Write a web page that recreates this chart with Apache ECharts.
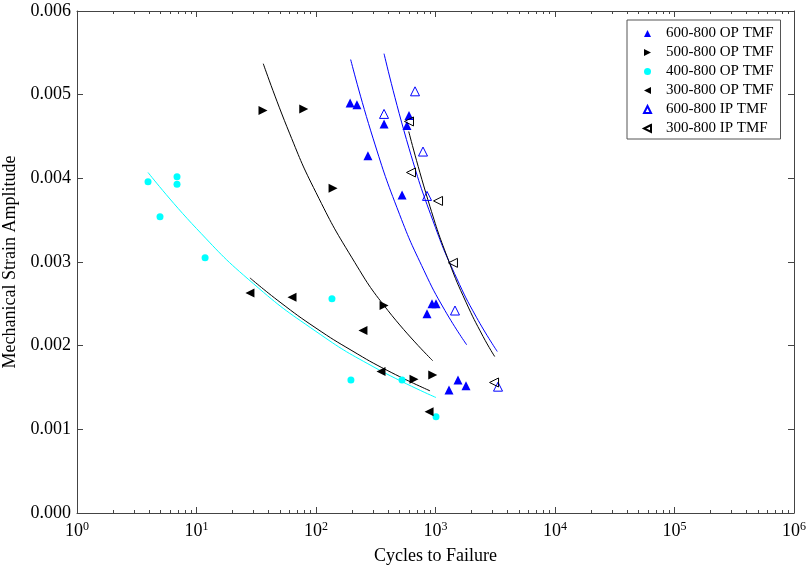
<!DOCTYPE html>
<html>
<head>
<meta charset="utf-8">
<script src="https://cdn.jsdelivr.net/npm/echarts@6/dist/echarts.min.js"></script>
<style>
  html, body { margin: 0; padding: 0; background: #fff; }
  #chart { width: 806px; height: 569px; }
</style>
</head>
<body>
<div id="chart"></div>
<script>
// test points [cycles, strain amplitude]
const op600 = [[193, 0.00490], [220, 0.00488], [371, 0.00465], [272, 0.00427], [525, 0.00380],
  [600, 0.00475], [577, 0.00463], [935, 0.00250], [1010, 0.00250], [849, 0.00238],
  [1543, 0.00159], [1800, 0.00152], [1297, 0.00147]];
const op500 = [[36, 0.00481], [79, 0.00483], [139, 0.00388], [371, 0.00248], [661, 0.00160], [948, 0.00165]];
const op400 = [[3.93, 0.00396], [6.87, 0.00402], [6.87, 0.00393], [4.95, 0.00354], [11.8, 0.00305],
  [136, 0.00256], [196, 0.00159], [525, 0.00159], [1010, 0.00115]];
const op300 = [[28, 0.00263], [63, 0.00258], [247, 0.00218], [350, 0.00169], [883, 0.00121]];
const ip600 = [[674, 0.00504], [371, 0.00477], [786, 0.00432], [849, 0.00379], [1456, 0.00242], [3336, 0.00151]];
const ip300 = [[600, 0.00468], [624, 0.00407], [1050, 0.00373], [1400, 0.00299], [3090, 0.00156]];

// fitted curves
const fit400N = [3.93, 10, 30, 100, 300, 1010];
const fit400E = [0.00407, 0.00340, 0.00274, 0.00217, 0.00175, 0.00138];
const fit300N = [28, 50, 100, 200, 400, 900];
const fit300E = [0.00281, 0.00252, 0.00221, 0.00194, 0.00170, 0.00146];
const fit500N = [36.2, 60, 100, 200, 400, 948];
const fit500E = [0.00537, 0.00454, 0.00383, 0.00305, 0.00242, 0.00182];
const fit600opN = [195, 300, 500, 800, 1200, 1824];
const fit600opE = [0.00542, 0.00448, 0.00357, 0.00290, 0.00242, 0.00201];
const fit600ipN = [371, 600, 1000, 1500, 2200, 3289];
const fit600ipE = [0.00549, 0.00436, 0.00341, 0.00281, 0.00234, 0.00193];
const fit300ipN = [597, 900, 1300, 1800, 2500, 3128];
const fit300ipE = [0.00456, 0.00366, 0.00300, 0.00252, 0.00211, 0.00187];

const majorTicks = [1, 10, 100, 1000, 10000, 100000, 1000000];
const minorTicks = [];
for (let d = 1; d < 1000000; d *= 10) {
  for (let k = 2; k <= 9; k++) minorTicks.push(k * d);
}

const font = '"Liberation Serif", "Times New Roman", serif';
const axisColor = '#444';
const triUp = 'triangle';
const triRight = 'path://M0,0L10,5L0,10Z';
const triLeft = 'path://M10,0L0,5L10,10Z';

const chart = echarts.init(document.getElementById('chart'));

function pairs(xs, ys) {
  return xs.map((x, i) => [x, ys[i]]);
}

function fitLine(name, xs, ys, color) {
  return {
    name: name,
    type: 'line',
    data: pairs(xs, ys),
    smooth: true,
    showSymbol: false,
    lineStyle: { color: color, width: 1 },
    z: 2,
    silent: true
  };
}

function xAx(pos, ticks, len, showLine, showLabel) {
  return {
    type: 'log',
    logBase: 10,
    min: 1,
    max: 1000000,
    position: pos,
    gridIndex: 0,
    axisLine: { show: showLine, onZero: false, lineStyle: { color: axisColor, width: 1 } },
    axisTick: { show: true, inside: true, length: len, customValues: ticks, lineStyle: { color: axisColor } },
    splitLine: { show: false },
    axisLabel: {
      show: showLabel,
      margin: 8,
      customValues: majorTicks,
      formatter: function (v) {
        return '{b|10}{s|' + Math.round(Math.log10(v)) + '}';
      },
      rich: {
        b: { fontFamily: font, fontSize: 18, color: '#000' },
        s: { fontFamily: font, fontSize: 12, color: '#000', verticalAlign: 'top', padding: [0, 0, 8, 0] }
      }
    }
  };
}

function pointSeries(name, data, symbol, size, fill, border) {
  return {
    name: name,
    type: 'scatter',
    data: data,
    symbol: symbol,
    symbolSize: size,
    itemStyle: border
      ? { color: 'rgba(255,255,255,0)', borderColor: border, borderWidth: 1, opacity: 1 }
      : { color: fill, opacity: 1 },
    z: 5
  };
}

const option = {
  backgroundColor: '#fff',
  animation: false,
  grid: { left: 77, right: 12, top: 11, bottom: 56, outerBoundsMode: 'none', containLabel: false },
  legend: {
    orient: 'vertical',
    left: 627,
    top: 20,
    padding: [6, 7, 3, 16],
    itemWidth: 7,
    itemHeight: 7,
    itemGap: 4,
    borderColor: '#555',
    borderWidth: 1,
    backgroundColor: '#fff',
    textStyle: { fontFamily: font, fontSize: 15, lineHeight: 14, color: '#000', padding: [0, 0, 0, 10] },
    data: [
      { name: '600-800 OP TMF', icon: triUp },
      { name: '500-800 OP TMF', icon: triRight },
      { name: '400-800 OP TMF', icon: 'circle' },
      { name: '300-800 OP TMF', icon: triLeft },
      { name: '600-800 IP TMF', icon: triUp },
      { name: '300-800 IP TMF', icon: triLeft }
    ]
  },
  xAxis: [
    Object.assign(xAx('bottom', majorTicks, 6, true, true), {
      name: 'Cycles to Failure',
      nameLocation: 'middle',
      nameGap: 34,
      nameTextStyle: { fontFamily: font, fontSize: 18, color: '#000' }
    }),
    xAx('bottom', minorTicks, 3, false, false),
    xAx('top', majorTicks, 6, true, false),
    xAx('top', minorTicks, 3, false, false)
  ],
  yAxis: [
    {
      type: 'value',
      min: 0,
      max: 0.006,
      interval: 0.001,
      position: 'left',
      name: 'Mechanical Strain Amplitude',
      nameLocation: 'middle',
      nameGap: 44,
      nameTextStyle: { fontFamily: font, fontSize: 18, color: '#000' },
      axisLine: { show: true, lineStyle: { color: axisColor, width: 1 } },
      axisTick: { show: true, inside: true, length: 6, lineStyle: { color: axisColor } },
      splitLine: { show: false },
      axisLabel: {
        fontFamily: font, fontSize: 18, color: '#000', margin: 6,
        formatter: function (v) { return v.toFixed(3); }
      }
    },
    {
      type: 'value',
      min: 0,
      max: 0.006,
      interval: 0.001,
      position: 'right',
      axisLine: { show: true, lineStyle: { color: axisColor, width: 1 } },
      axisTick: { show: true, inside: true, length: 6, lineStyle: { color: axisColor } },
      splitLine: { show: false },
      axisLabel: { show: false }
    }
  ],
  series: [
    fitLine('fit400', fit400N, fit400E, '#00ffff'),
    fitLine('fit300', fit300N, fit300E, '#000'),
    fitLine('fit500', fit500N, fit500E, '#000'),
    fitLine('fit600op', fit600opN, fit600opE, '#0000ff'),
    fitLine('fit600ip', fit600ipN, fit600ipE, '#0000ff'),
    fitLine('fit300ip', fit300ipN, fit300ipE, '#000'),
    pointSeries('600-800 OP TMF', op600, triUp, 9, '#0000ff'),
    pointSeries('500-800 OP TMF', op500, triRight, 9, '#000'),
    pointSeries('400-800 OP TMF', op400, 'circle', 7, '#00ffff'),
    pointSeries('300-800 OP TMF', op300, triLeft, 9, '#000'),
    pointSeries('600-800 IP TMF', ip600, triUp, 9, null, '#0000ff'),
    pointSeries('300-800 IP TMF', ip300, triLeft, 9, null, '#000')
  ]
};

chart.setOption(option);
</script>
</body>
</html>
